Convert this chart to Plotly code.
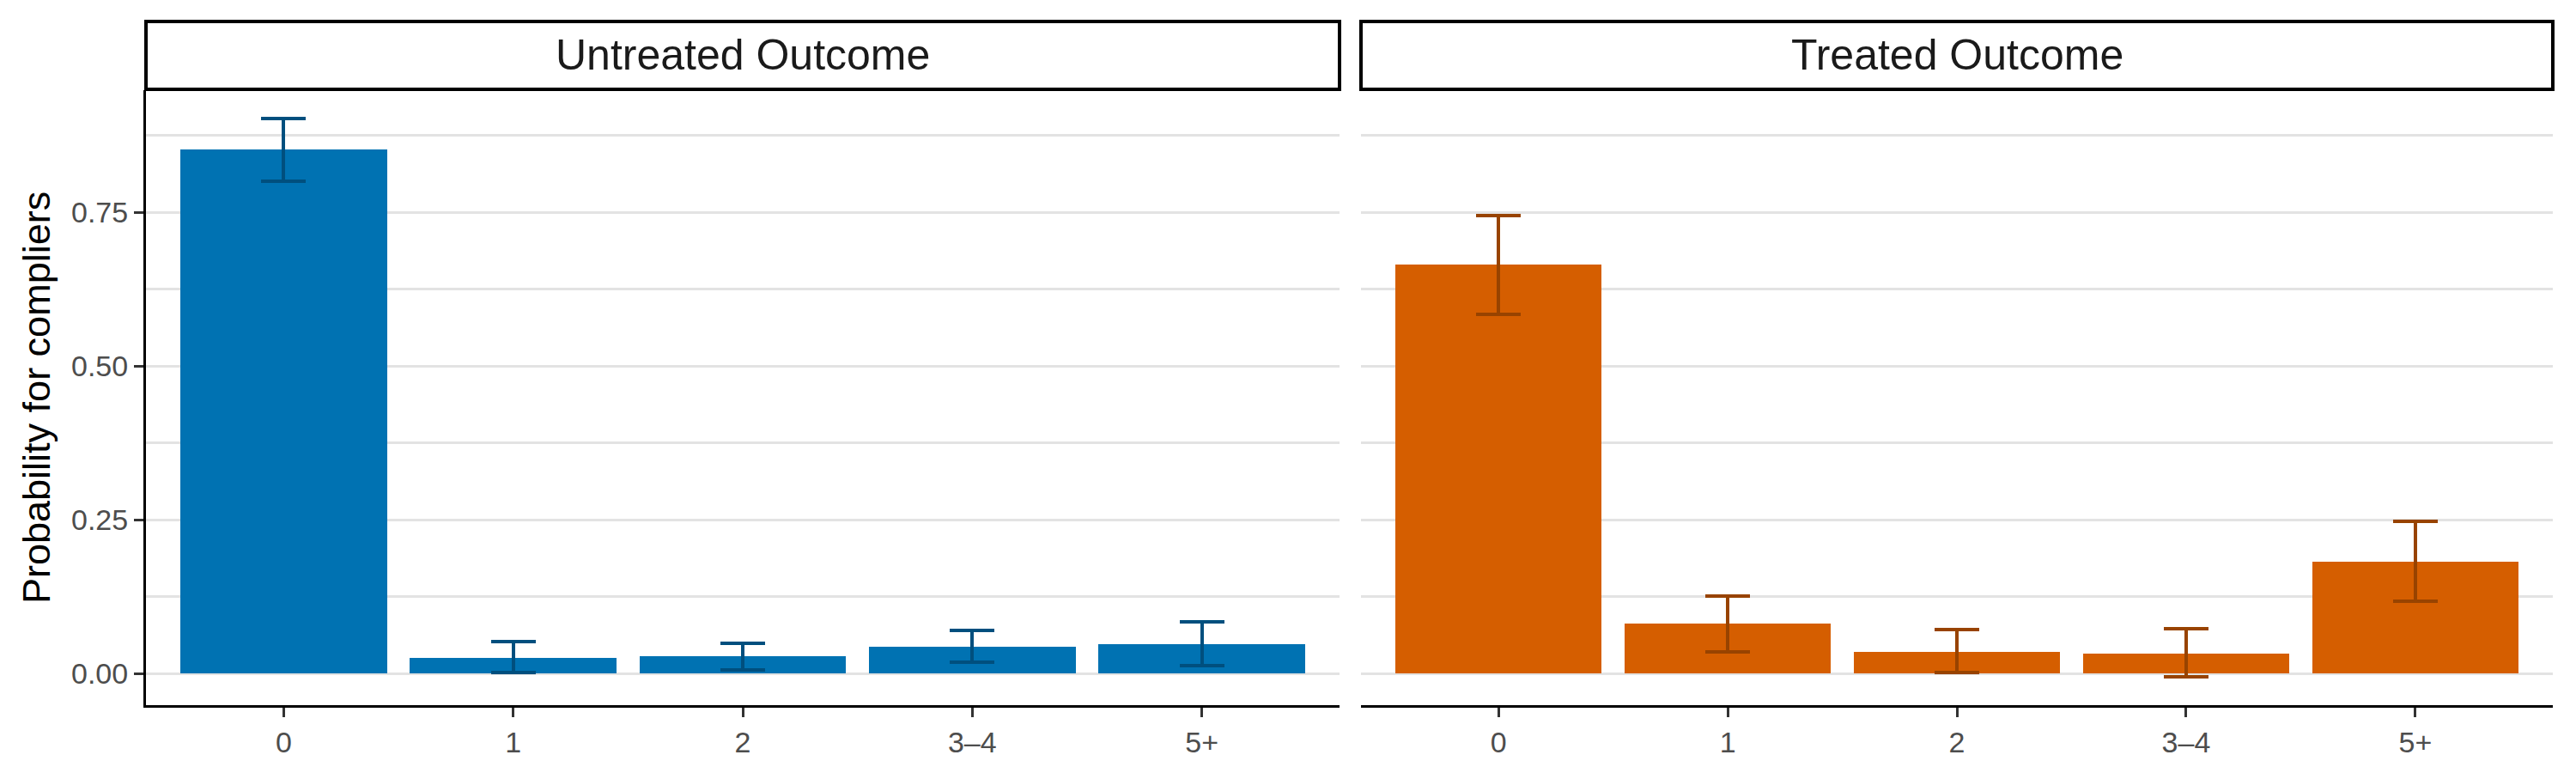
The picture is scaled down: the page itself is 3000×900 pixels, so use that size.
import plotly.graph_objects as go

categories = ["0", "1", "2", "3\u20134", "5+"]
panel_titles = ["Untreated Outcome", "Treated Outcome"]

untreated = [0.852, 0.0265, 0.028, 0.0446, 0.0488]
untreated_hi = [0.903, 0.0526, 0.0498, 0.0707, 0.0846]
untreated_lo = [0.801, 0.0014, 0.0066, 0.0195, 0.0135]

treated = [0.665, 0.081, 0.036, 0.0335, 0.1827]
treated_hi = [0.7457, 0.126, 0.0725, 0.0735, 0.2478]
treated_lo = [0.585, 0.036, 0.0014, -0.0056, 0.118]

y_ticks = [0, 0.25, 0.5, 0.75]
y_tick_labels = ["0.00", "0.25", "0.50", "0.75"]

W, H = 3000, 900
FONT = "Liberation Sans, Arial, Helvetica, sans-serif"
BLUE, BLUE_ERR = "#0072B2", "#004F7E"
ORANGE, ORANGE_ERR = "#D55E00", "#984300"
GRID = "#E3E3E3"

# panel geometry (pixels)
px_l1, px_r1 = 170, 1560
px_l2, px_r2 = 1585, 2973
py_top, py_bot = 105, 821
strip_top, strip_bot = 25, 104


def fx(p):
    return p / W


def fy(p):
    return (H - p) / H


fig = go.Figure()

for vals, hi, lo, col, ecol, xa, ya in [
    (untreated, untreated_hi, untreated_lo, BLUE, BLUE_ERR, "x", "y"),
    (treated, treated_hi, treated_lo, ORANGE, ORANGE_ERR, "x2", "y2"),
]:
    fig.add_trace(go.Bar(
        x=categories, y=vals, width=0.9,
        marker=dict(color=col, line=dict(width=0)),
        error_y=dict(type="data", symmetric=False,
                     array=[h - v for h, v in zip(hi, vals)],
                     arrayminus=[v - l for v, l in zip(vals, lo)],
                     color=ecol, thickness=4, width=26),
        xaxis=xa, yaxis=ya, showlegend=False, hoverinfo="skip",
    ))

yrange = [-0.051, 0.949]
xrange = [-0.6, 4.6]

common_x = dict(type="category", range=xrange, showgrid=False, zeroline=False,
                showline=True, linecolor="black", linewidth=3,
                ticks="outside", ticklen=11, tickwidth=3, tickcolor="#333333",
                tickfont=dict(family=FONT, size=34, color="#4D4D4D"),
                categoryorder="array", categoryarray=categories)
fig.update_layout(
    width=W, height=H,
    margin=dict(l=0, r=0, t=0, b=0),
    paper_bgcolor="white", plot_bgcolor="white",
    bargap=0,
    xaxis=dict(domain=[fx(px_l1), fx(px_r1)], anchor="y", **common_x),
    xaxis2=dict(domain=[fx(px_l2), fx(px_r2)], anchor="y2", **common_x),
    yaxis=dict(domain=[fy(py_bot), fy(py_top)], anchor="x", range=yrange,
               tickvals=y_ticks, ticktext=y_tick_labels,
               showgrid=True, gridcolor=GRID, gridwidth=3, zeroline=False,
               showline=True, linecolor="black", linewidth=3,
               ticks="outside", ticklen=11, tickwidth=3, tickcolor="#333333",
               tickfont=dict(family=FONT, size=34, color="#4D4D4D"),
               minor=dict(dtick=0.125, tick0=0, showgrid=True, gridcolor=GRID,
                          gridwidth=3, ticks="")),
    yaxis2=dict(domain=[fy(py_bot), fy(py_top)], anchor="x2", range=yrange,
                matches="y", tickvals=y_ticks, showticklabels=False,
                showgrid=True, gridcolor=GRID, gridwidth=3, zeroline=False,
                showline=False, ticks="",
                minor=dict(dtick=0.125, tick0=0, showgrid=True, gridcolor=GRID,
                           gridwidth=3, ticks="")),
)

# strip boxes and titles
for (l, r), title in zip([(px_l1, px_r1), (px_l2, px_r2)], panel_titles):
    fig.add_shape(type="rect", xref="paper", yref="paper",
                  x0=fx(l), x1=fx(r), y0=fy(strip_bot), y1=fy(strip_top),
                  line=dict(color="black", width=4), fillcolor="white")
    fig.add_annotation(xref="paper", yref="paper", x=fx((l + r) / 2),
                       y=fy((strip_top + strip_bot) / 2), text=title,
                       showarrow=False, xanchor="center", yanchor="middle",
                       font=dict(family=FONT, size=50, color="#1A1A1A"))

# y-axis title
fig.add_annotation(xref="paper", yref="paper", x=fx(42), y=fy((py_top + py_bot) / 2),
                   text="Probability for compliers", textangle=-90, showarrow=False,
                   xanchor="center", yanchor="middle",
                   font=dict(family=FONT, size=45, color="black"))

fig.write_html("out.html", config={"displayModeBar": False},
               post_script="document.body.style.margin='0';")
